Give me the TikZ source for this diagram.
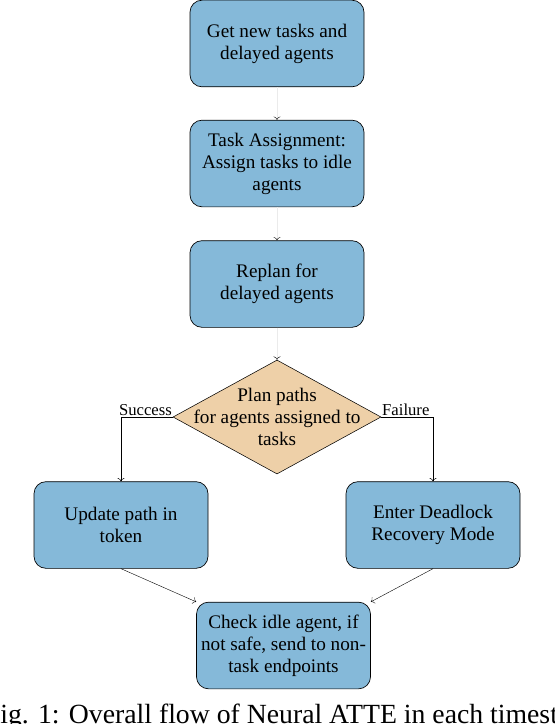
\documentclass[tikz,border=0pt]{standalone}
\usepackage{fontspec}
\setmainfont{Liberation Serif}
\usetikzlibrary{shapes.geometric, arrows.meta, positioning}

\definecolor{boxblue}{RGB}{133,185,217}
\definecolor{decisiontan}{RGB}{238,208,168}

\tikzset{
  stepbox/.style={draw=black, fill=boxblue, rounded corners=9pt, line width=0.5pt,
    minimum width=130.5pt, minimum height=65pt, align=center,
    font=\fontsize{14.4}{16.5}\selectfont},
  decision/.style={draw=black, fill=decisiontan, diamond, line width=0.4pt,
    inner xsep=-40pt, inner ysep=-20pt, minimum width=156pt, minimum height=85.5pt, align=center,
    font=\fontsize{14.4}{16.5}\selectfont},
  flow/.style={draw=black!8, line width=0.3pt, -{To[length=2.5pt,black]}},
  branch/.style={draw=black, line width=0.4pt, -{To[length=2.5pt]}},
  branchlabel/.style={font=\fontsize{12.5}{14}\selectfont, inner sep=0.5pt}
}

\begin{document}
\begin{tikzpicture}[x=0.75pt, y=-0.75pt]
            \useasboundingbox (0,0) rectangle (554,724);

            % Main column
            \node[stepbox] (newtasks) at (277,43.5) {Get new tasks and\\delayed agents};
            \node[stepbox] (assign) at (277,163.5) {Task Assignment:\\Assign tasks to idle\\agents};
            \node[stepbox] (replan) at (277,284) {Replan for\\delayed agents};
            \node[decision] (planpaths) at (277,417) {Plan paths\\for agents assigned to\\tasks};

            % Outcomes
            \node[stepbox] (update) at (121,525) {Update path in\\token};
            \node[stepbox] (deadlock) at (433,525) {Enter Deadlock\\Recovery Mode};
            \node[stepbox] (checkidle) at (283.5,645.5) {Check idle agent, if\\not safe, send to non-\\task endpoints};

            % Caption
            \node[anchor=base, font=\fontsize{20.8}{24}\selectfont, inner sep=0pt] (caption) at (288,723)
              {Fig. 1: Overall flow of Neural ATTE in each timestep.};

            % Arrows down the column
            \draw[flow] (newtasks) -- (assign);
            \draw[flow] (assign) -- (replan);
            \draw[flow] (replan) -- (planpaths);

            % Branches
            \draw[branch] (planpaths.west) -| (update.north)
              node[branchlabel, pos=0, anchor=south east] {Success};
            \draw[branch] (planpaths.east) -| (deadlock.north)
              node[branchlabel, pos=0, anchor=south west] {Failure};

            % Into the last step
            \draw[branch, line width=0.3pt] (update.south) -- (checkidle.north west);
            \draw[branch, line width=0.3pt] (deadlock.south) -- (checkidle.north east);
\end{tikzpicture}
\end{document}
